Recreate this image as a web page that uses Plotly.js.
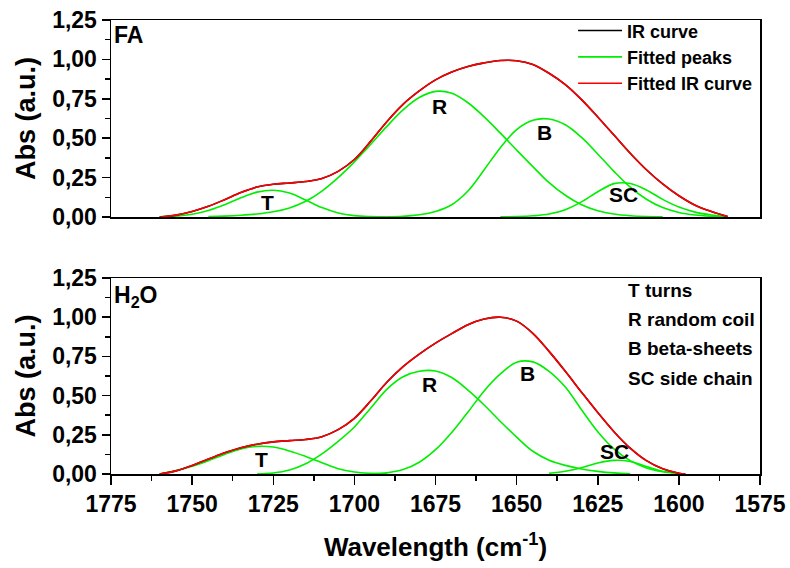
<!DOCTYPE html>
<html>
<head>
<meta charset="utf-8">
<script src="https://cdn.plot.ly/plotly-3.0.1.min.js"></script>
<style>
  html, body { margin: 0; padding: 0; background: #ffffff; }
  #chart { width: 790px; height: 568px; }
</style>
</head>
<body>
<div id="chart"></div>
<script>
// ---------- FA panel (top) ----------
const faT_x = [1760,1755,1750,1745,1740,1735,1730,1725,1720,1715,1710,1705,1700,1695,1690];
const faT   = [0.002,0.006,0.018,0.042,0.078,0.122,0.158,0.170,0.152,0.108,0.060,0.026,0.009,0.003,0.001];

const faR_x = [1745,1740,1735,1730,1725,1720,1715,1710,1705,1700,1695,1690,1685,1680,1675,1670,1665,1660,1655,1650,1645,1640,1635,1630,1625,1620,1615,1610,1605];
const faR   = [0.003,0.006,0.011,0.019,0.033,0.058,0.10,0.165,0.25,0.35,0.46,0.575,0.68,0.758,0.797,0.785,0.725,0.635,0.532,0.425,0.32,0.218,0.138,0.078,0.04,0.019,0.008,0.003,0.001];

const faB_x = [1690,1685,1680,1675,1670,1665,1660,1655,1650,1645,1640,1635,1630,1625,1620,1615,1610,1605,1600,1595,1590,1585];
const faB   = [0.001,0.004,0.014,0.035,0.078,0.165,0.30,0.44,0.555,0.614,0.622,0.585,0.505,0.40,0.29,0.19,0.113,0.06,0.029,0.013,0.005,0.001];

const faSC_x = [1655,1650,1645,1640,1635,1630,1625,1620,1615,1610,1605,1600,1595,1590,1585];
const faSC   = [0.001,0.003,0.008,0.019,0.047,0.096,0.16,0.212,0.213,0.172,0.112,0.063,0.031,0.013,0.003];

const faFit_x = [1760,1755,1750,1745,1740,1735,1730,1725,1720,1715,1710,1705,1700,1695,1690,1685,1680,1675,1670,1665,1660,1655,1650,1645,1640,1635,1630,1625,1620,1615,1610,1605,1600,1595,1590,1585];
const faFit   = [0.0,0.012,0.035,0.068,0.11,0.155,0.19,0.208,0.216,0.225,0.245,0.29,0.365,0.48,0.605,0.715,0.80,0.87,0.92,0.955,0.978,0.993,0.992,0.968,0.912,0.84,0.745,0.635,0.52,0.405,0.30,0.21,0.135,0.075,0.035,0.003];
const faIR    = [0.0,0.012,0.035,0.068,0.11,0.155,0.19,0.208,0.216,0.225,0.245,0.29,0.365,0.48,0.605,0.715,0.80,0.87,0.92,0.955,0.978,0.993,0.992,0.968,0.912,0.84,0.745,0.635,0.52,0.405,0.30,0.21,0.135,0.075,0.035,0.003];

// ---------- H2O panel (bottom) ----------
const hT_x = [1760,1755,1750,1745,1740,1735,1730,1725,1720,1715,1710,1705,1700,1695,1690];
const hT   = [0.0,0.022,0.05,0.085,0.125,0.16,0.176,0.172,0.147,0.112,0.072,0.034,0.013,0.004,0.0];

const hR_x = [1730,1725,1720,1715,1710,1705,1700,1695,1690,1685,1680,1675,1670,1665,1660,1655,1650,1645,1640,1635,1630,1625,1620,1615];
const hR   = [0.0,0.006,0.025,0.065,0.128,0.208,0.30,0.42,0.54,0.62,0.655,0.657,0.615,0.535,0.44,0.335,0.235,0.145,0.088,0.055,0.032,0.017,0.007,0.002];

const hB_x = [1695,1690,1685,1680,1675,1670,1665,1660,1655,1650,1645,1640,1635,1630,1625,1620,1615,1610,1605,1600];
const hB   = [0.001,0.007,0.028,0.075,0.155,0.265,0.395,0.53,0.638,0.712,0.715,0.655,0.555,0.41,0.27,0.16,0.085,0.038,0.014,0.004];

const hSC_x = [1640,1635,1630,1625,1620,1615,1610,1605,1600];
const hSC   = [0.005,0.018,0.04,0.07,0.087,0.08,0.048,0.018,0.004];

const hFit_x = [1760,1755,1750,1745,1740,1735,1730,1725,1720,1715,1710,1705,1700,1695,1690,1685,1680,1675,1670,1665,1660,1655,1650,1645,1640,1635,1630,1625,1620,1615,1610,1605,1600,1598];
const hFit   = [0.0,0.02,0.055,0.095,0.135,0.168,0.19,0.205,0.213,0.22,0.238,0.283,0.355,0.465,0.585,0.685,0.765,0.835,0.895,0.952,0.988,1.0,0.975,0.897,0.782,0.655,0.522,0.392,0.27,0.165,0.085,0.033,0.005,0.0];
const hIR    = [0.0,0.02,0.055,0.095,0.135,0.168,0.19,0.205,0.213,0.22,0.238,0.283,0.355,0.465,0.585,0.685,0.765,0.835,0.895,0.952,0.988,1.0,0.975,0.897,0.782,0.655,0.522,0.392,0.27,0.165,0.085,0.033,0.005,0.0];

// ---------- labels ----------
const xTickVals = [1775,1750,1725,1700,1675,1650,1625,1600,1575];
const yTickVals = [0,0.25,0.5,0.75,1.0,1.25];
const legendNames = ['IR curve','Fitted peaks','Fitted IR curve'];
const keyLines = ['T turns','R random coil','B beta-sheets','SC side chain'];
const peakNames = ['T','R','B','SC'];

const GREEN = '#00ee00', RED = '#ff0000', BLACK = '#000000';
const FONT = 'Liberation Sans, Arial, sans-serif';

function line(x, y, color, xa, ya, name, show, rank) {
  return {
    type: 'scatter', mode: 'lines', x: x, y: y, xaxis: xa, yaxis: ya,
    line: { color: color, width: 1.6, shape: 'spline', smoothing: 1 },
    name: name, showlegend: show, legendrank: rank, hoverinfo: 'skip'
  };
}

const traces = [
  // top panel
  line(faT_x, faT, GREEN, 'x2', 'y2', legendNames[1], true, 2),
  line(faR_x, faR, GREEN, 'x2', 'y2', legendNames[1], false, 2),
  line(faB_x, faB, GREEN, 'x2', 'y2', legendNames[1], false, 2),
  line(faSC_x, faSC, GREEN, 'x2', 'y2', legendNames[1], false, 2),
  line(faFit_x, faIR, BLACK, 'x2', 'y2', legendNames[0], true, 1),
  line(faFit_x, faFit, RED, 'x2', 'y2', legendNames[2], true, 3),
  // bottom panel
  line(hT_x, hT, GREEN, 'x', 'y', legendNames[1], false, 2),
  line(hR_x, hR, GREEN, 'x', 'y', legendNames[1], false, 2),
  line(hB_x, hB, GREEN, 'x', 'y', legendNames[1], false, 2),
  line(hSC_x, hSC, GREEN, 'x', 'y', legendNames[1], false, 2),
  line(hFit_x, hIR, BLACK, 'x', 'y', legendNames[0], false, 1),
  line(hFit_x, hFit, RED, 'x', 'y', legendNames[2], false, 3)
];

const tickFont = { family: FONT, size: 23, color: '#000', weight: 'bold' };
const yTitleFont = { family: FONT, size: 27, color: '#000', weight: 'bold' };

function yAxis(domain, anchor) {
  return {
    domain: domain, anchor: anchor, range: [0, 1.25], autorange: false,
    tickmode: 'array', tickvals: yTickVals, tickformat: '.2f',
    ticks: 'outside', ticklen: 8, tickwidth: 1.5, tickcolor: '#000',
    minor: { dtick: 0.125, tick0: 0, ticks: 'outside', ticklen: 5, tickwidth: 1.5, tickcolor: '#000' },
    showline: true, linecolor: '#000', linewidth: 1.5, mirror: true,
    showgrid: false, zeroline: false, tickfont: tickFont,
    title: { text: 'Abs (a.u.)', font: yTitleFont, standoff: 8 }
  };
}

const layout = {
  width: 790, height: 568,
  margin: { l: 111, r: 30, t: 20, b: 94 },
  paper_bgcolor: '#ffffff', plot_bgcolor: '#ffffff',
  separators: ',.',
  font: { family: FONT, color: '#000' },
  showlegend: true,
  legend: {
    x: 0.712, y: 1.017, xanchor: 'left', yanchor: 'top',
    bgcolor: 'rgba(0,0,0,0)', borderwidth: 0,
    font: { family: FONT, size: 18, color: '#000', weight: 'bold' },
    itemwidth: 44, tracegroupgap: 0
  },
  xaxis: {
    domain: [0, 1], anchor: 'y', range: [1775, 1575], autorange: false,
    tickmode: 'array', tickvals: xTickVals,
    ticks: 'outside', ticklen: 9, tickwidth: 1.5, tickcolor: '#000',
    minor: { dtick: 12.5, tick0: 1575, ticks: 'outside', ticklen: 5, tickwidth: 1.5, tickcolor: '#000' },
    showline: true, linecolor: '#000', linewidth: 1.5, mirror: true,
    showgrid: false, zeroline: false, tickfont: tickFont,
    title: { text: 'Wavelength (cm<sup>-1</sup>)', font: { family: FONT, size: 26, color: '#000', weight: 'bold' }, standoff: 21 }
  },
  xaxis2: {
    domain: [0, 1], anchor: 'y2', range: [1775, 1575], autorange: false, matches: 'x',
    showticklabels: false, ticks: '',
    showline: true, linecolor: '#000', linewidth: 1.5, mirror: true,
    showgrid: false, zeroline: false
  },
  yaxis: yAxis([0, 0.4317], 'x'),
  yaxis2: yAxis([0.566, 1], 'x2'),
  annotations: []
};

const lblFont = { family: FONT, size: 21, color: '#000', weight: 'bold' };
// panel names
layout.annotations.push({ xref: 'paper', yref: 'paper', x: 0.002, y: 0.966, xanchor: 'left', yanchor: 'middle',
  text: 'FA', showarrow: false, font: { family: FONT, size: 23, color: '#000', weight: 'bold' } });
layout.annotations.push({ xref: 'paper', yref: 'paper', x: 0.002, y: 0.39, xanchor: 'left', yanchor: 'middle',
  text: 'H<sub>2</sub>O', showarrow: false, font: { family: FONT, size: 23, color: '#000', weight: 'bold' } });

// peak labels
const faLblX = [1726.9, 1673.9, 1641.3, 1617.2];
const faLblY = [0.095, 0.704, 0.535, 0.14];
const hLblX = [1728.5, 1677, 1646.8, 1619.7];
const hLblY = [0.091, 0.57, 0.64, 0.144];
for (let i = 0; i < peakNames.length; i++) {
  layout.annotations.push({ xref: 'x2', yref: 'y2', x: faLblX[i], y: faLblY[i], text: peakNames[i],
    showarrow: false, font: lblFont, xanchor: 'center', yanchor: 'middle' });
  layout.annotations.push({ xref: 'x', yref: 'y', x: hLblX[i], y: hLblY[i], text: peakNames[i],
    showarrow: false, font: lblFont, xanchor: 'center', yanchor: 'middle' });
}
// key text (bottom panel)
const keyY = [0.405, 0.341, 0.277, 0.211];
for (let i = 0; i < keyLines.length; i++) {
  layout.annotations.push({ xref: 'paper', yref: 'paper', x: 0.793, y: keyY[i], xanchor: 'left', yanchor: 'middle',
    text: keyLines[i], showarrow: false, font: { family: FONT, size: 19, color: '#000', weight: 'bold' } });
}

Plotly.newPlot('chart', traces, layout, { displayModeBar: false, staticPlot: true });
</script>
</body>
</html>
